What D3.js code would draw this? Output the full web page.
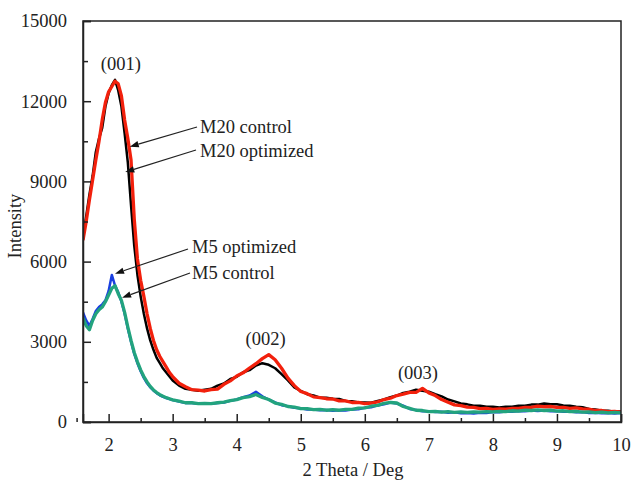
<!DOCTYPE html>
<html><head><meta charset="utf-8">
<script src="https://cdn.jsdelivr.net/npm/d3@7"></script>
<style>body{margin:0;background:#fff}svg{display:block}text{font-family:"Liberation Serif","Times New Roman",serif;fill:#222}</style>
</head><body><div id="chart"></div>
<script>
const twoTheta = [1.6,1.65,1.7,1.75,1.8,1.85,1.9,1.95,2.0,2.05,2.1,2.15,2.2,2.25,2.3,2.35,2.4,2.45,2.5,2.55,2.6,2.65,2.7,2.75,2.8,2.85,2.9,2.95,3.0,
3.1,3.2,3.3,3.4,3.5,3.6,3.7,3.8,3.9,4.0,4.1,4.2,4.3,4.4,4.5,4.6,4.7,4.8,4.9,5.0,5.1,5.2,5.3,5.4,5.5,5.6,5.7,5.8,5.9,6.0,
6.1,6.2,6.3,6.4,6.5,6.6,6.7,6.8,6.9,7.0,7.1,7.2,7.3,7.4,7.5,7.6,7.7,7.8,7.9,8.0,8.1,8.2,8.3,8.4,8.5,8.6,8.7,8.8,8.9,9.0,
9.1,9.2,9.3,9.4,9.5,9.6,9.7,9.8,9.9,10.0];

const m20Control = [6900,7700,8500,9200,10100,10600,11000,11800,12300,12600,12800,12400,11800,10800,9700,8100,6600,5500,4700,4050,3500,3050,2700,2400,2200,2000,1850,1700,1550,
1360,1240,1210,1170,1210,1240,1360,1440,1610,1690,1860,1940,2110,2200,2140,2010,1790,1560,1290,1160,1040,990,910,910,870,860,790,780,730,730,
720,790,840,930,990,1090,1130,1210,1170,1130,1040,960,840,770,690,660,610,610,570,570,540,570,570,610,610,650,650,690,660,660,
620,610,570,550,490,470,420,420,380,390];

const m20Optimized = [6800,7500,8300,9050,9800,10500,11300,11950,12350,12550,12750,12650,12200,11300,10600,9800,7600,6100,5300,4700,4050,3500,3050,2700,2450,2250,2050,1850,1700,
1450,1320,1210,1190,1160,1210,1230,1410,1540,1720,1840,2020,2180,2370,2520,2330,2010,1640,1360,1140,1060,940,910,870,860,790,790,730,730,690,
710,750,840,890,990,1040,1110,1110,1260,1090,990,840,740,640,610,560,550,500,510,470,490,480,510,510,550,550,590,570,580,550,
550,510,530,490,480,430,430,390,400,370];

const m5Optimized = [4100,3800,3600,3850,4150,4300,4400,4550,4900,5500,5100,4850,4500,4050,3500,3000,2550,2200,1900,1650,1450,1300,1180,1080,1000,940,900,860,820,
770,710,710,680,690,680,710,730,790,840,930,990,1130,960,840,730,630,590,530,510,470,470,440,450,420,440,430,470,480,530,
550,620,660,730,690,610,490,450,400,400,370,380,350,360,330,340,320,350,340,370,360,390,380,410,400,430,410,430,400,410,
380,390,360,370,340,350,330,340,320,340];

const m5Control = [3900,3600,3450,3800,4050,4200,4300,4500,4750,5000,5100,4800,4550,4100,3550,3050,2600,2250,1950,1700,1500,1330,1200,1100,1020,960,910,870,830,
780,720,720,690,700,690,720,740,800,840,910,950,1030,920,840,710,660,580,560,500,500,460,470,440,460,440,470,470,520,530,
590,620,700,730,710,580,510,440,430,390,400,370,390,360,380,360,380,370,390,380,400,390,420,410,440,430,450,430,440,410,
420,390,400,370,380,350,370,340,360,340];

const xTicks = [2,3,4,5,6,7,8,9,10];
const yTicks = [0,3000,6000,9000,12000,15000];
const seriesNames = ["M20 control","M20 optimized","M5 optimized","M5 control"];
const seriesColors = ["#000000","#f2200c","#1a3fe0","#22a37e"];
const seriesWidths = [2.5,3.3,2.5,3.3];

// peak labels: [text, 2theta, intensity at baseline]
const peakLabels = [["(001)",2.19,13150],["(002)",4.45,2880],["(003)",6.83,1620]];

const W = 632, H = 481;
const margin = {left:83, right:11, top:21, bottom:59};
const svg = d3.select("#chart").append("svg").attr("width",W).attr("height",H);
const x = d3.scaleLinear().domain([1.6,10]).range([margin.left, W-margin.right]);
const y = d3.scaleLinear().domain([0,15000]).range([H-margin.bottom, margin.top]);

svg.append("clipPath").attr("id","clip").append("rect")
  .attr("x",x(1.6)).attr("y",y(15000)).attr("width",x(10)-x(1.6)).attr("height",y(0)-y(15000));

const allSeries = [m20Control,m20Optimized,m5Optimized,m5Control];
const line = d3.line().x(d=>x(d[0])).y(d=>y(d[1]));
const g = svg.append("g").attr("clip-path","url(#clip)");
allSeries.forEach((vals,i)=>{
  g.append("path").datum(twoTheta.map((t,j)=>[t,vals[j]]))
   .attr("d",line).attr("fill","none").attr("stroke",seriesColors[i])
   .attr("stroke-width",seriesWidths[i]).attr("stroke-linejoin","round");
});

// frame
svg.append("rect").attr("x",x(1.6)).attr("y",y(15000)).attr("width",x(10)-x(1.6)).attr("height",y(0)-y(15000))
  .attr("fill","none").attr("stroke","#222").attr("stroke-width",1.5);

// axes with inward ticks
const xAxis = d3.axisBottom(x).tickValues(xTicks).tickSize(-8).tickPadding(16).tickFormat(d3.format("d"));
const gx = svg.append("g").attr("transform",`translate(0,${y(0)})`).call(xAxis);
const yAxis = d3.axisLeft(y).tickValues(yTicks).tickSize(-8).tickPadding(16).tickFormat(d3.format("d"));
const gy = svg.append("g").attr("transform",`translate(${x(1.6)},0)`).call(yAxis);
[gx,gy].forEach(a=>{
  a.select(".domain").attr("stroke","#222").attr("stroke-width",1.5);
  a.selectAll(".tick line").attr("stroke","#222").attr("stroke-width",1.5);
  a.selectAll("text").style("font-family","'Liberation Serif',serif").style("font-size","18.5px").attr("fill","#222");
});
// minor ticks
const xMinor = d3.axisBottom(x).tickValues(xTicks.map(v=>v-0.5)).tickSize(-4).tickFormat("");
svg.append("g").attr("transform",`translate(0,${y(0)})`).call(xMinor)
  .call(a=>{a.select(".domain").remove();a.selectAll("line").attr("stroke","#222").attr("stroke-width",1.5);});
const yMinor = d3.axisLeft(y).tickValues(yTicks.slice(1).map(v=>v-1500)).tickSize(-5).tickFormat("");
svg.append("g").attr("transform",`translate(${x(1.6)},0)`).call(yMinor)
  .call(a=>{a.select(".domain").remove();a.selectAll("line").attr("stroke","#222").attr("stroke-width",1.5);});

// axis titles
svg.append("text").attr("x",353).attr("y",476).attr("text-anchor","middle").style("font-size","18.5px").text("2 Theta / Deg");
svg.append("text").attr("transform","translate(21,226) rotate(-90)").attr("text-anchor","middle").style("font-size","18.5px").text("Intensity");

// peak labels
peakLabels.forEach(p=>{
  svg.append("text").attr("x",x(p[1])).attr("y",y(p[2]))
   .attr("text-anchor","middle").style("font-size","18.5px").text(p[0]);
});

// series annotations with arrows
const annotations = [
  {text:"M20 control", tx:200, ty:133, from:[197,127], tip:[2.33,10300]},
  {text:"M20 optimized", tx:200, ty:157, from:[196,150], tip:[2.26,9350]},
  {text:"M5 optimized", tx:192, ty:253, from:[188,249], tip:[2.1,5550]},
  {text:"M5 control", tx:192, ty:279, from:[190,273], tip:[2.21,4650]}
];
annotations.forEach(a=>{
  svg.append("text").attr("x",a.tx).attr("y",a.ty).style("font-size","18.5px").text(a.text);
  const x1=a.from[0], y1=a.from[1], x2=x(a.tip[0]), y2=y(a.tip[1]);
  const ang = Math.atan2(y2-y1,x2-x1);
  const L=9, Wd=3.2;
  const bx = x2 - L*Math.cos(ang), by = y2 - L*Math.sin(ang);
  svg.append("line").attr("x1",x1).attr("y1",y1).attr("x2",bx).attr("y2",by).attr("stroke","#222").attr("stroke-width",1.2);
  const p1=[bx + Wd*Math.sin(ang), by - Wd*Math.cos(ang)], p2=[bx - Wd*Math.sin(ang), by + Wd*Math.cos(ang)];
  svg.append("path").attr("d",`M${x2},${y2}L${p1[0]},${p1[1]}L${p2[0]},${p2[1]}Z`).attr("fill","#111");
});
</script></body></html>
